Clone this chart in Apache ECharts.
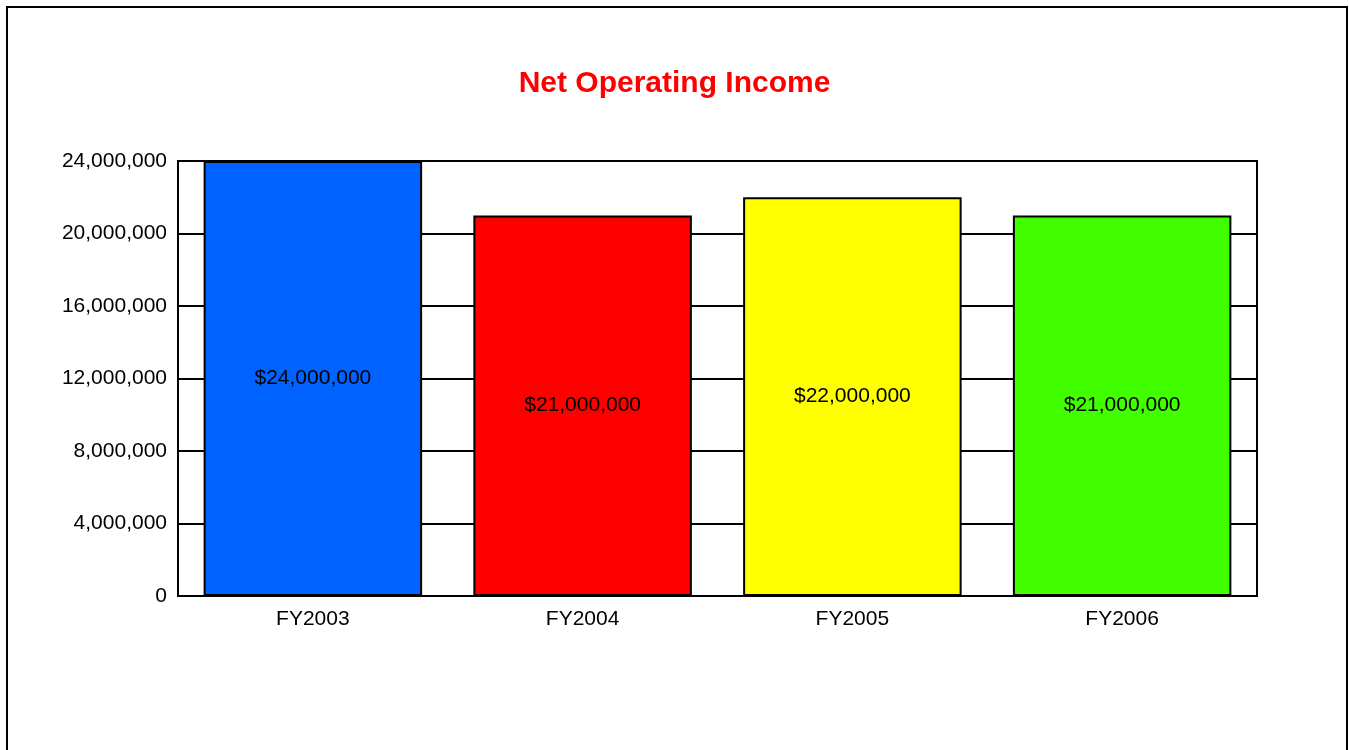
<!DOCTYPE html>
<html>
<head>
<meta charset="utf-8">
<script src="https://cdn.jsdelivr.net/npm/echarts@6/dist/echarts.min.js"></script>
<style>
html,body{margin:0;padding:0;background:#fff;}
#chart{width:1349px;height:750px;}
</style>
</head>
<body>
<div id="chart"></div>
<script>
const categories = ["FY2003", "FY2004", "FY2005", "FY2006"];
const values = [24000000, 21000000, 22000000, 21000000];
const barColors = ["#0062FF", "#FF0000", "#FFFF00", "#42FF00"];
const yTicks = { min: 0, max: 24000000, interval: 4000000 };
const titleText = "Net Operating Income";

const fmt = v => v.toLocaleString("en-US");
const font = "Liberation Sans, Arial, sans-serif";

const chart = echarts.init(document.getElementById("chart"));
chart.setOption({
  animation: false,
  backgroundColor: "#fff",
  graphic: [{
    type: "rect",
    shape: { x: 7, y: 7, width: 1340, height: 760 },
    style: { fill: "none", stroke: "#000", lineWidth: 2 },
    silent: true
  }],
  title: {
    text: titleText,
    left: "center",
    top: 64,
    textStyle: { color: "#FF0000", fontSize: 30, fontWeight: "bold", fontFamily: font }
  },
  grid: {
    left: 178, top: 161, right: 92, bottom: 154,
    show: true, borderColor: "#000", borderWidth: 2, backgroundColor: "transparent"
  },
  xAxis: {
    type: "category",
    data: categories,
    axisLine: { lineStyle: { color: "#000", width: 2 } },
    axisTick: { show: false },
    axisLabel: { color: "#000", fontSize: 21, fontFamily: font, margin: 13 }
  },
  yAxis: {
    type: "value",
    min: yTicks.min, max: yTicks.max, interval: yTicks.interval,
    axisLine: { show: true, lineStyle: { color: "#000", width: 2 } },
    axisTick: { show: false },
    splitLine: { show: true, lineStyle: { color: "#000", width: 2 } },
    axisLabel: { color: "#000", fontSize: 21, fontFamily: font, margin: 11, formatter: v => fmt(v) }
  },
  series: [{
    type: "bar",
    data: values.map((v, i) => ({ value: v, itemStyle: { color: barColors[i] } })),
    barWidth: "81%",
    itemStyle: { borderColor: "#000", borderWidth: 2 },
    label: {
      show: true, position: "inside", color: "#000", fontSize: 21, fontFamily: font,
      formatter: p => "$" + fmt(p.value)
    }
  }]
});
</script>
</body>
</html>
